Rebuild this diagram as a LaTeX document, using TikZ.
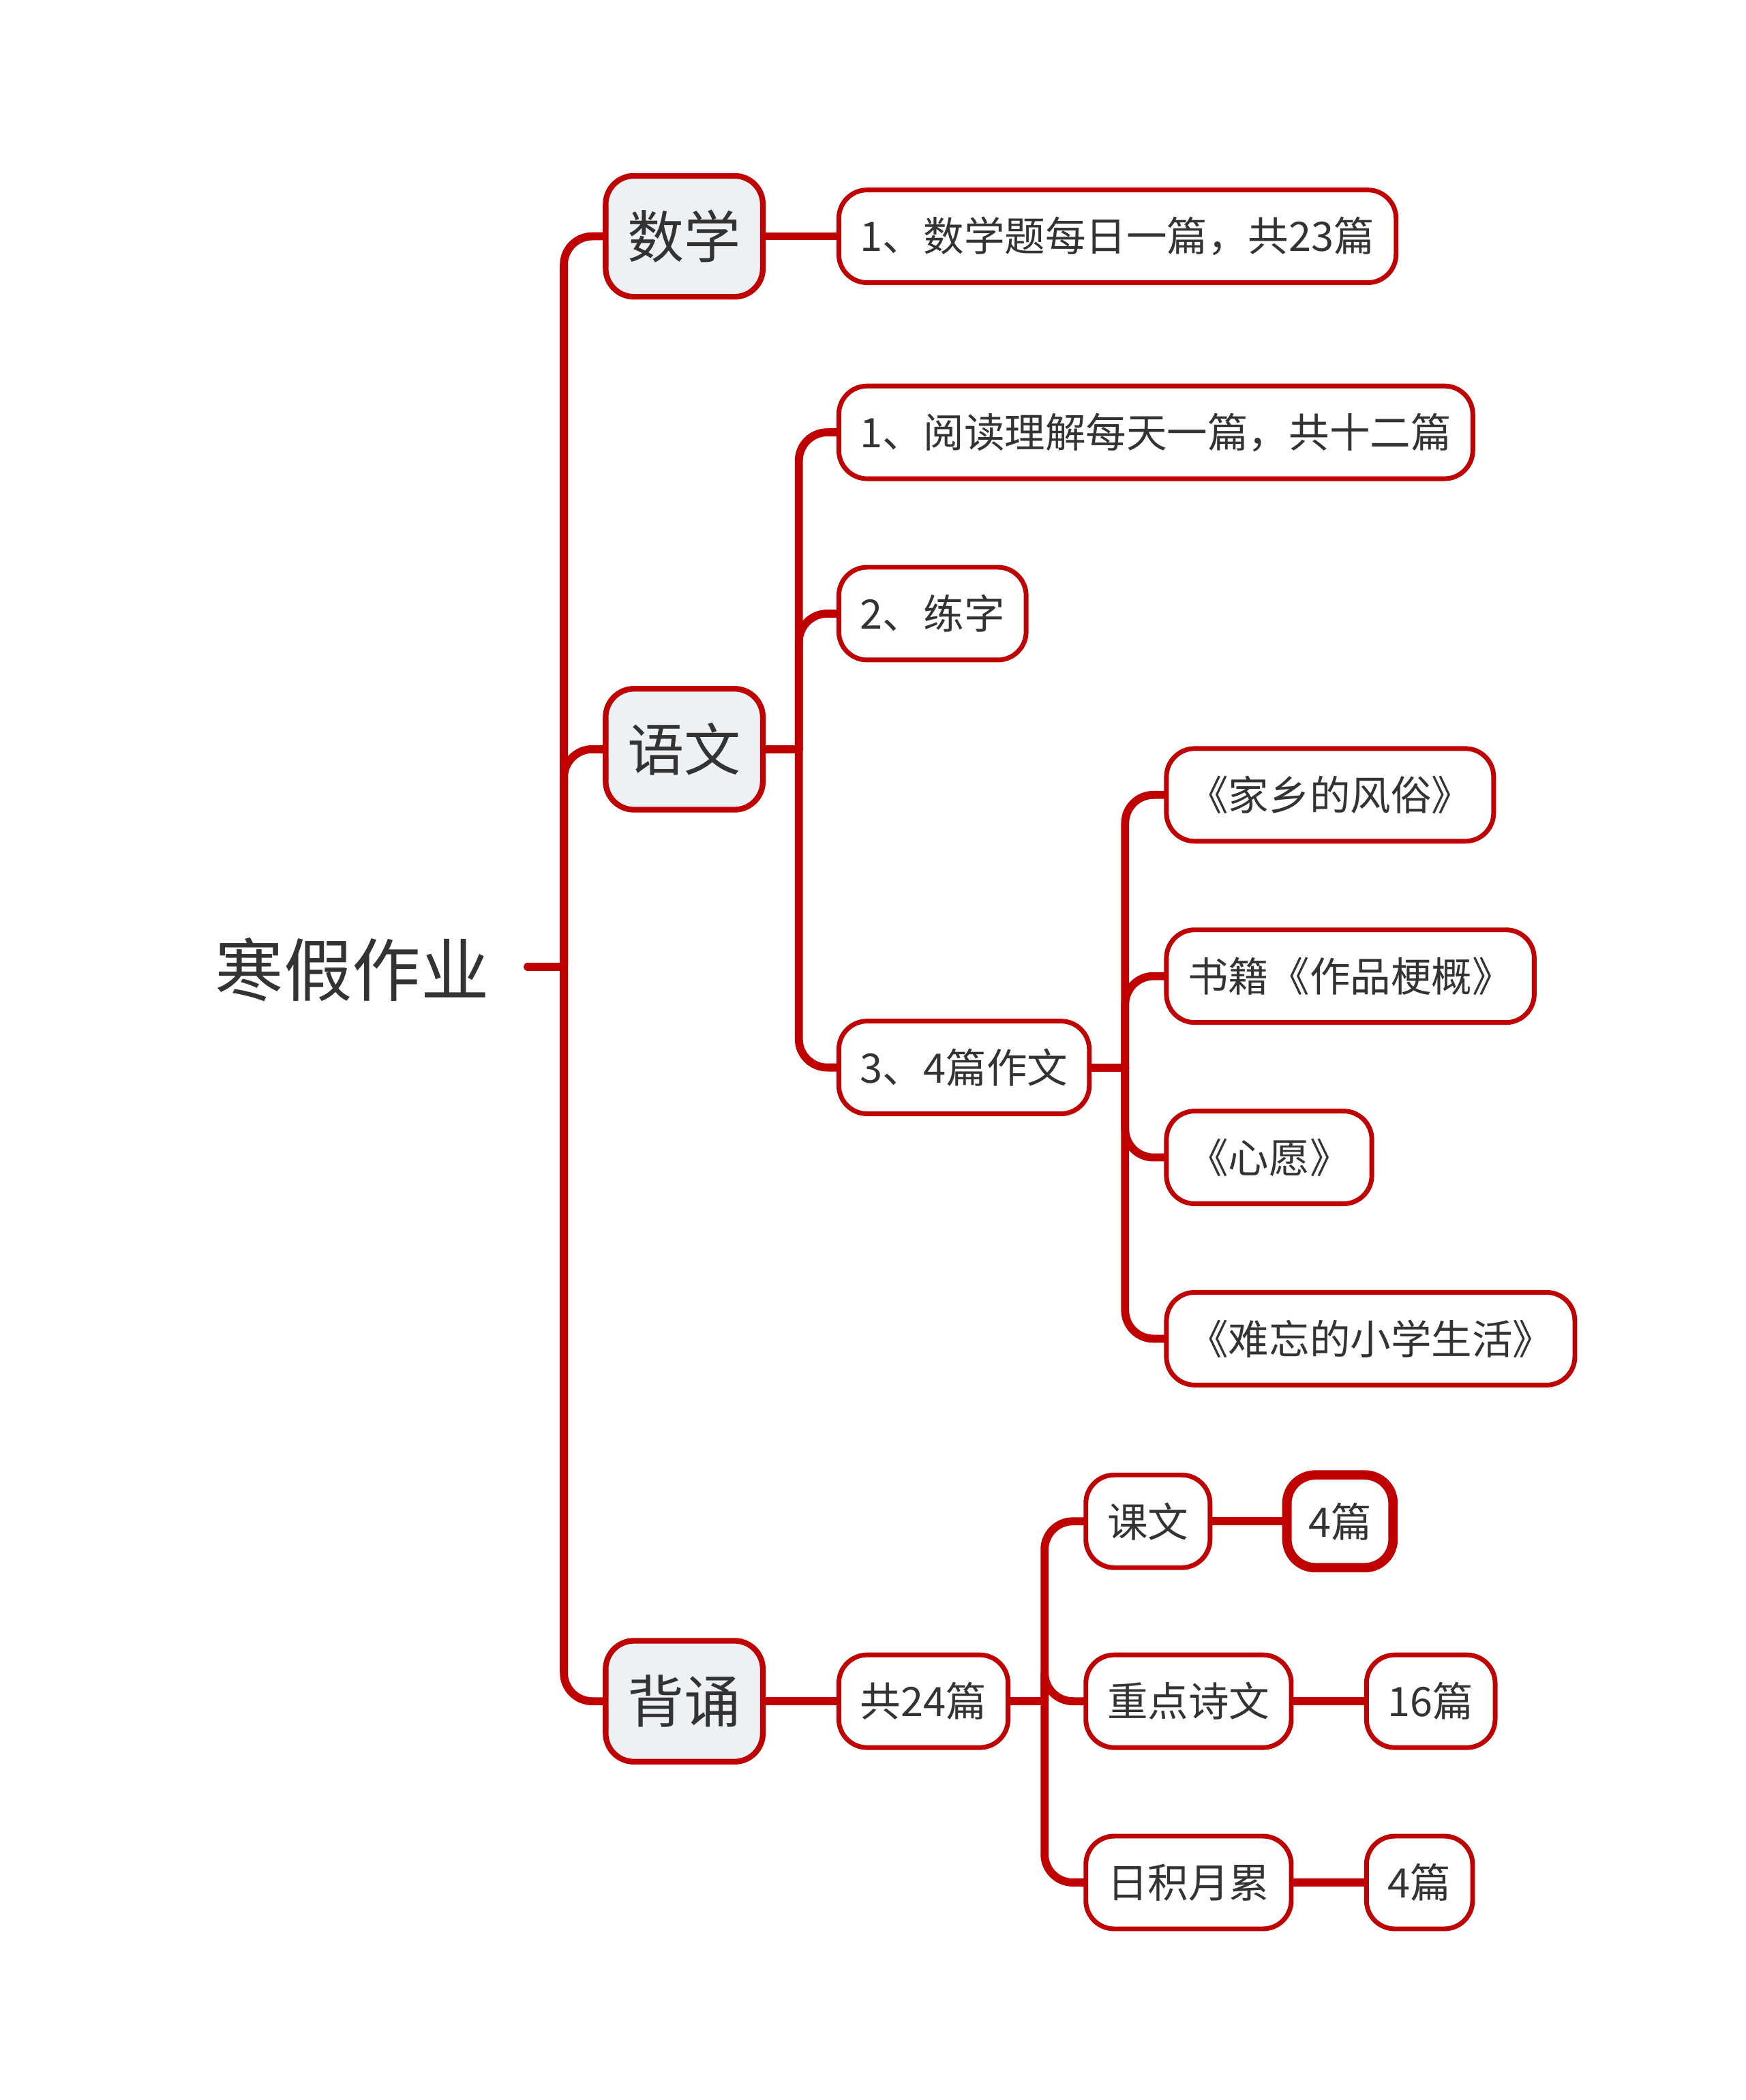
\documentclass[tikz,border=0pt]{standalone}
\usepackage{fontspec}
\setmainfont{Noto Sans CJK SC}
\usetikzlibrary{positioning}
\definecolor{linered}{HTML}{C00000}
\definecolor{txtgray}{HTML}{333333}
\definecolor{topfill}{HTML}{EEF1F4}
\tikzset{
  topbox/.style={draw=linered,line width=1.2pt,fill=topfill,rounded corners=6pt,anchor=west,
    minimum width=1.17cm,minimum height=0.9cm,inner sep=0pt,font=\fontsize{12}{14}\selectfont,text=txtgray},
  subbox/.style={draw=linered,line width=1pt,fill=white,rounded corners=6pt,anchor=west,
    minimum height=0.69cm,inner xsep=0.16cm,inner ysep=0pt,font=\fontsize{8.6}{10}\selectfont,text=txtgray},
  link/.style={linered,line width=1.7pt,rounded corners=6pt}
}
\begin{document}
\begin{tikzpicture}[x=0.01cm,y=-0.01cm,line cap=round]
\useasboundingbox (0,0) rectangle (1300,1564);
% root and main branches
\node[anchor=east,font=\fontsize{14.5}{16}\selectfont,text=txtgray,inner sep=0pt] (root) at (365,722) {寒假作业};
\coordinate (rootend) at (393,720);
\node[topbox] (math) at (449,176) {数学};
\node[topbox] (chin) at (449,558) {语文};
\node[topbox] (reci) at (449,1267) {背诵};
\draw[link] (rootend) -- (420,720);
\foreach \x in {math,chin,reci}{\draw[link] (420,720) |- (\x.west);}
% maths
\node[subbox] (m1) at (623,176) {1、数学题每日一篇，共23篇};
\draw[link] (math.east) -- (m1.west);
% chinese
\node[subbox] (c1) at (623,322) {1、阅读理解每天一篇，共十二篇};
\node[subbox] (c2) at (623,457) {2、练字};
\node[subbox] (c3) at (623,795) {3、4篇作文};
\draw[link] (chin.east) -- (595,558);
\foreach \x in {c1,c2,c3}{\draw[link] (595,558) |- (\x.west);}
\node[subbox] (e1) at (867,592) {《家乡的风俗》};
\node[subbox] (e2) at (867,727) {书籍《作品梗概》};
\node[subbox] (e3) at (867,862) {《心愿》};
\node[subbox] (e4) at (867,997) {《难忘的小学生活》};
\draw[link] (c3.east) -- (838,795);
\foreach \x in {e1,e2,e3,e4}{\draw[link] (838,795) |- (\x.west);}
% recitation
\node[subbox] (r0) at (623,1267) {共24篇};
\draw[link] (reci.east) -- (r0.west);
\node[subbox] (r1) at (807,1133) {课文};
\node[subbox] (r2) at (807,1267) {重点诗文};
\node[subbox] (r3) at (807,1402) {日积月累};
\draw[link] (r0.east) -- (778,1267);
\foreach \x in {r1,r2,r3}{\draw[link] (778,1267) |- (\x.west);}
\node[subbox,line width=2pt] (n1) at (955,1133) {4篇};
\node[subbox] (n2) at (1016,1267) {16篇};
\node[subbox] (n3) at (1016,1402) {4篇};
\draw[link] (r1.east) -- (n1.west);
\draw[link] (r2.east) -- (n2.west);
\draw[link] (r3.east) -- (n3.west);
\end{tikzpicture}
\end{document}
